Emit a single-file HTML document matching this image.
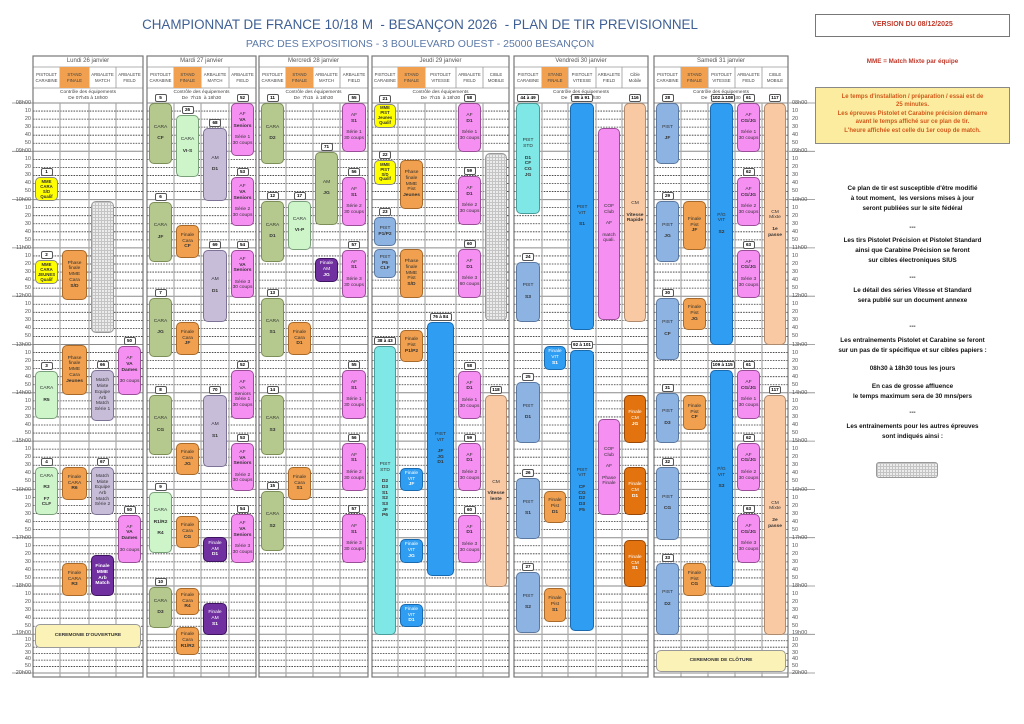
<!DOCTYPE html>
<html><head><meta charset="utf-8">
<style>
*{box-sizing:border-box;margin:0;padding:0}
body{width:1024px;height:724px;background:#fff;position:relative;overflow:hidden;font-family:"Liberation Sans",sans-serif;color:#222}
svg#g{position:absolute;left:0;top:0}
.a{position:absolute}
.e{position:absolute;border:1px solid #666;border-radius:5px;font-size:4.9px;text-align:center;display:flex;flex-direction:column;justify-content:center;align-items:center;line-height:1.17;color:#333}
.e i{position:absolute;top:-10px;left:50%;margin-left:-6px;min-width:12px;height:8px;border:1px solid #555;border-radius:2px;background:#fff;font-style:normal;font-size:4.6px;line-height:6px;padding:0 1px;color:#000;font-weight:bold;white-space:nowrap}
.e i.w{margin-left:-11px;min-width:22px}
.ol{background:#b5c98e;border-color:#7d8f58}
.lg{background:#cdf5c9;border-color:#7aa07a}
.or{background:#f0a04e;border-color:#a86a2a}
.dor{background:#e2730f;border-color:#9a4a08;color:#fff}
.lav{background:#c7bdd9;border-color:#7d7396}
.pk{background:#f68ff2;border-color:#9a4e98}
.pu{background:#7030a0;border-color:#3e1460;color:#fff}
.ye{background:#ffff00;border-color:#888}
.lb{background:#8db3e2;border-color:#5a78a0}
.cy{background:#7fe8e6;border-color:#4a9c9a}
.bl{background:#2f9df2;border-color:#1a6ab0}
.pe{background:#f9c9a4;border-color:#b08a6c}
.gr{background-color:#ececec;background-image:linear-gradient(#c4c4c4 1px,transparent 1px),linear-gradient(90deg,#c4c4c4 1px,transparent 1px);background-size:3px 3px;border-color:#999}
.dh{position:absolute;top:56px;height:11px;font-size:6px;text-align:center;line-height:11px;color:#555}
.sh{position:absolute;top:67px;height:21px;font-size:4.3px;text-align:center;display:flex;align-items:center;justify-content:center;line-height:1.3;color:#444}
.sh.f{background:#f0a04e}
.ct{position:absolute;top:88px;height:15px;font-size:4.8px;text-align:center;line-height:6px;padding-top:2px;color:#444}
.tl{position:absolute;width:31px;text-align:right;font-size:5.5px;line-height:8.05px;color:#555}
.tr{position:absolute;left:792px;width:25px;text-align:left;font-size:5.5px;line-height:8.05px;color:#555}
.rt{position:absolute;left:815px;width:195px;text-align:center;font-size:6.3px;font-weight:bold;line-height:12px;color:#111}
</style></head><body>
<svg id="g" width="1024" height="724"></svg>

<div class="a" style="left:60px;top:17px;width:720px;text-align:center;font-size:13.4px;color:#3e5f95">CHAMPIONNAT DE FRANCE 10/18 M &nbsp;- BESANÇON 2026 &nbsp;- PLAN DE TIR PREVISIONNEL</div>
<div class="a" style="left:60px;top:38px;width:720px;text-align:center;font-size:10.5px;color:#5b79a8">PARC DES EXPOSITIONS - 3 BOULEVARD OUEST - 25000 BESANÇON</div>

<div class="a" style="left:815px;top:14px;width:195px;height:23px;border:1.5px solid #777;text-align:center;font-size:7px;font-weight:bold;color:#c0392b;line-height:20px">VERSION DU 08/12/2025</div>
<div class="a" style="left:815px;top:58px;width:195px;text-align:center;font-size:6.3px;font-weight:bold;color:#c0392b">MME = Match Mixte par équipe</div>
<div class="a" style="left:815px;top:87px;width:195px;height:57px;border:1px solid #888;background:#fbeca0;text-align:center;font-size:6px;font-weight:bold;color:#d35a1a;line-height:8.4px;padding-top:5px">Le temps d'installation / préparation / essai est de<br>25 minutes.<br>Les épreuves Pistolet et Carabine précision démarre<br>avant le temps affiché sur ce plan de tir.<br>L'heure affichée est celle du 1er coup de match.</div>
<div class="rt" style="top:184px;line-height:10px">Ce plan de tir est susceptible d'être modifié<br>à tout moment,&nbsp; les versions mises à jour<br>seront publiées sur le site fédéral</div>
<div class="rt" style="top:222px">---</div>
<div class="rt" style="top:236px;line-height:10px">Les tirs Pistolet Précision et Pistolet Standard<br>ainsi que Carabine Précision se feront<br>sur cibles électroniques SIUS</div>
<div class="rt" style="top:272px">---</div>
<div class="rt" style="top:286px;line-height:10px">Le détail des séries Vitesse et Standard<br>sera publié sur un document annexe</div>
<div class="rt" style="top:321px">---</div>
<div class="rt" style="top:336px;line-height:10px">Les entraînements Pistolet et Carabine se feront<br>sur un pas de tir spécifique et sur cibles papiers :</div>
<div class="rt" style="top:363px">08h30 à 18h30 tous les jours</div>
<div class="rt" style="top:382px;line-height:10px">En cas de grosse affluence<br>le temps maximum sera de 30 mns/pers</div>
<div class="rt" style="top:407px">---</div>
<div class="rt" style="top:422px;line-height:10px">Les entraînements pour les autres épreuves<br>sont indiqués ainsi :</div>
<div class="e gr" style="left:876px;top:462px;width:62px;height:16px;border-radius:3px"></div>

<!-- day headers -->
<div class="dh" style="left:33px;width:110px">Lundi 26 janvier</div>
<div class="dh" style="left:147px;width:109px">Mardi 27 janvier</div>
<div class="dh" style="left:259px;width:109px">Mercredi 28 janvier</div>
<div class="dh" style="left:372px;width:137px">Jeudi 29 janvier</div>
<div class="dh" style="left:514px;width:134px">Vendredi 30 janvier</div>
<div class="dh" style="left:654px;width:134px">Samedi 31 janvier</div>

<div class="sh" style="left:33px;width:27px">PISTOLET<br>CARABINE</div><div class="sh f" style="left:60px;width:29px">STAND<br>FINALE</div><div class="sh" style="left:89px;width:27px">ARBALETE<br>MATCH</div><div class="sh" style="left:116px;width:27px">ARBALETE<br>FIELD</div>
<div class="sh" style="left:147px;width:27px">PISTOLET<br>CARABINE</div><div class="sh f" style="left:174px;width:27px">STAND<br>FINALE</div><div class="sh" style="left:201px;width:28px">ARBALETE<br>MATCH</div><div class="sh" style="left:229px;width:27px">ARBALETE<br>FIELD</div>
<div class="sh" style="left:259px;width:27px">PISTOLET<br>CARABINE</div><div class="sh f" style="left:286px;width:27px">STAND<br>FINALE</div><div class="sh" style="left:313px;width:27px">ARBALETE<br>MATCH</div><div class="sh" style="left:340px;width:28px">ARBALETE<br>FIELD</div>
<div class="sh" style="left:372px;width:26px">PISTOLET<br>CARABINE</div><div class="sh f" style="left:398px;width:27px">STAND<br>FINALE</div><div class="sh" style="left:425px;width:31px">PISTOLET<br>VITESSE</div><div class="sh" style="left:456px;width:27px">ARBALETE<br>FIELD</div><div class="sh" style="left:483px;width:26px">CIBLE<br>MOBILE</div>
<div class="sh" style="left:514px;width:28px">PISTOLET<br>CARABINE</div><div class="sh f" style="left:542px;width:26px">STAND<br>FINALE</div><div class="sh" style="left:568px;width:28px">PISTOLET<br>VITESSE</div><div class="sh" style="left:596px;width:26px">ARBALETE<br>FIELD</div><div class="sh" style="left:622px;width:26px">Cible<br>Mobile</div>
<div class="sh" style="left:654px;width:27px">PISTOLET<br>CARABINE</div><div class="sh f" style="left:681px;width:27px">STAND<br>FINALE</div><div class="sh" style="left:708px;width:27px">PISTOLET<br>VITESSE</div><div class="sh" style="left:735px;width:27px">ARBALETE<br>FIELD</div><div class="sh" style="left:762px;width:26px">CIBLE<br>MOBILE</div>

<div class="ct" style="left:33px;width:110px">Contrôle des équipements<br>De 07h45 à 18h00</div>
<div class="ct" style="left:147px;width:109px">Contrôle des équipements<br>De&nbsp; 7h15&nbsp; à 18h30</div>
<div class="ct" style="left:259px;width:109px">Contrôle des équipements<br>De&nbsp; 7h15&nbsp; à 18h30</div>
<div class="ct" style="left:372px;width:137px">Contrôle des équipements<br>De&nbsp; 7h15&nbsp; à 18h30</div>
<div class="ct" style="left:514px;width:134px">Contrôle des équipements<br>De&nbsp; 7h15&nbsp; à 18h30</div>
<div class="ct" style="left:654px;width:134px">Contrôle des équipements<br>De&nbsp; 7h15&nbsp; à 18h30</div>

<!-- time labels left -->
<div class="tl" style="left:0;top:99px">08h00<br>10<br>20<br>30<br>40<br>50</div>
<div class="tl" style="left:0;top:147px">09h00<br>10<br>20<br>30<br>40<br>50</div>
<div class="tl" style="left:0;top:196px">10h00<br>10<br>20<br>30<br>40<br>50</div>
<div class="tl" style="left:0;top:244px">11h00<br>10<br>20<br>30<br>40<br>50</div>
<div class="tl" style="left:0;top:292px">12h00<br>10<br>20<br>30<br>40<br>50</div>
<div class="tl" style="left:0;top:341px">13h00<br>10<br>20<br>30<br>40<br>50</div>
<div class="tl" style="left:0;top:389px">14h00<br>10<br>20<br>30<br>40<br>50</div>
<div class="tl" style="left:0;top:437px">15h00<br>10<br>20<br>30<br>40<br>50</div>
<div class="tl" style="left:0;top:486px">16h00<br>10<br>20<br>30<br>40<br>50</div>
<div class="tl" style="left:0;top:534px">17h00<br>10<br>20<br>30<br>40<br>50</div>
<div class="tl" style="left:0;top:582px">18h00<br>10<br>20<br>30<br>40<br>50</div>
<div class="tl" style="left:0;top:630px;line-height:6.5px">19h00<br>10<br>20<br>30<br>40<br>50</div>
<div class="tl" style="left:0;top:669px">20h00</div>
<!-- right -->
<div class="tr" style="top:99px">08h00<br>10<br>20<br>30<br>40<br>50</div>
<div class="tr" style="top:147px">09h00<br>10<br>20<br>30<br>40<br>50</div>
<div class="tr" style="top:196px">10h00<br>10<br>20<br>30<br>40<br>50</div>
<div class="tr" style="top:244px">11h00<br>10<br>20<br>30<br>40<br>50</div>
<div class="tr" style="top:292px">12h00<br>10<br>20<br>30<br>40<br>50</div>
<div class="tr" style="top:341px">13h00<br>10<br>20<br>30<br>40<br>50</div>
<div class="tr" style="top:389px">14h00<br>10<br>20<br>30<br>40<br>50</div>
<div class="tr" style="top:437px">15h00<br>10<br>20<br>30<br>40<br>50</div>
<div class="tr" style="top:486px">16h00<br>10<br>20<br>30<br>40<br>50</div>
<div class="tr" style="top:534px">17h00<br>10<br>20<br>30<br>40<br>50</div>
<div class="tr" style="top:582px">18h00<br>10<br>20<br>30<br>40<br>50</div>
<div class="tr" style="top:630px;line-height:6.5px">19h00<br>10<br>20<br>30<br>40<br>50</div>
<div class="tr" style="top:669px">20h00</div>

<!-- LUNDI -->
<div class="e ye" style="left:35px;top:177px;width:23px;height:24px;font-size:4.3px"><i>1</i><b>MME<br>CARA<br>S/D<br>Qualif</b></div>
<div class="e ye" style="left:35px;top:260px;width:23px;height:24px;font-size:4.3px"><i>2</i><b>MME<br>CARA<br>JEUNES<br>Qualif</b></div>
<div class="e or" style="left:62px;top:250px;width:25px;height:50px">Phase<br>finale<br>MME<br>Cara<br><b>S/D</b></div>
<div class="e gr" style="left:91px;top:201px;width:23px;height:132px"></div>
<div class="e or" style="left:62px;top:345px;width:25px;height:50px">Phase<br>finale<br>MME<br>Cara<br><b>Jeunes</b></div>
<div class="e lg" style="left:35px;top:371px;width:23px;height:48px"><i>3</i>CARA<br><br><b>R5</b></div>
<div class="e lav" style="left:91px;top:370px;width:23px;height:51px"><i>66</i>Match<br>Mixte<br>Equipe<br>Arb<br>Match<br>Série 1</div>
<div class="e pk" style="left:118px;top:346px;width:23px;height:49px"><i>50</i>AF<br><b>VA<br>Dames</b><br>30 coups</div>
<div class="e lg" style="left:35px;top:467px;width:23px;height:48px"><i>4</i>CARA<br><br><b>R3<br><br>F7<br>CLF</b></div>
<div class="e or" style="left:62px;top:467px;width:25px;height:33px">Finale<br>CARA<br><b>R6</b></div>
<div class="e lav" style="left:91px;top:467px;width:23px;height:48px"><i>67</i>Match<br>Mixte<br>Equipe<br>Arb<br>Match<br>Série 2</div>
<div class="e pk" style="left:118px;top:515px;width:23px;height:48px"><i>50</i>AF<br><b>VA<br>Dames</b><br>30 coups</div>
<div class="e or" style="left:62px;top:563px;width:25px;height:33px">Finale<br>CARA<br><b>R3</b></div>
<div class="e pu" style="left:91px;top:555px;width:23px;height:41px"><b>Finale<br>MME<br>Arb<br>Match</b></div>
<div class="e" style="left:35px;top:624px;width:106px;height:24px;background:#fbf2b8;border-color:#999"><b>CEREMONIE D'OUVERTURE</b></div>

<!-- MARDI -->
<div class="e ol" style="left:149px;top:103px;width:23px;height:61px"><i>5</i>CARA<br><br><b>CF</b></div>
<div class="e lg" style="left:176px;top:115px;width:23px;height:62px"><i>26</i>CARA<br><br><b>VI-S</b></div>
<div class="e lav" style="left:203px;top:128px;width:24px;height:73px"><i>68</i>AM<br><br><b>D1</b></div>
<div class="e pk" style="left:231px;top:103px;width:23px;height:53px"><i>52</i>AF<br><b>VA<br>Seniors</b><br>Série 1<br>30 coups</div>
<div class="e pk" style="left:231px;top:177px;width:23px;height:49px"><i>53</i>AF<br><b>VA<br>Seniors</b><br>Série 2<br>30 coups</div>
<div class="e ol" style="left:149px;top:202px;width:23px;height:60px"><i>6</i>CARA<br><br><b>JF</b></div>
<div class="e or" style="left:176px;top:225px;width:23px;height:33px">Finale<br>Cara<br><b>CF</b></div>
<div class="e lav" style="left:203px;top:250px;width:24px;height:72px"><i>69</i>AM<br><br><b>D1</b></div>
<div class="e pk" style="left:231px;top:250px;width:23px;height:48px"><i>54</i>AF<br><b>VA<br>Seniors</b><br>Série 3<br>30 coups</div>
<div class="e ol" style="left:149px;top:298px;width:23px;height:59px"><i>7</i>CARA<br><br><b>JG</b></div>
<div class="e or" style="left:176px;top:322px;width:23px;height:33px">Finale<br>Cara<br><b>JF</b></div>
<div class="e pk" style="left:231px;top:370px;width:23px;height:49px"><i>52</i>AF<br>VA<br>Seniors<br>Série 1<br>30 coups</div>
<div class="e ol" style="left:149px;top:395px;width:23px;height:60px"><i>8</i>CARA<br><br><b>CG</b></div>
<div class="e lav" style="left:203px;top:395px;width:24px;height:72px"><i>70</i>AM<br><br><b>S1</b></div>
<div class="e or" style="left:176px;top:443px;width:23px;height:32px">Finale<br>Cara<br><b>JG</b></div>
<div class="e pk" style="left:231px;top:443px;width:23px;height:48px"><i>53</i>AF<br><b>VA<br>Seniors</b><br>Série 2<br>30 coups</div>
<div class="e lg" style="left:149px;top:492px;width:23px;height:61px"><i>9</i>CARA<br><br><b>R1/R2<br><br>R4</b></div>
<div class="e or" style="left:176px;top:516px;width:23px;height:32px">Finale<br>Cara<br><b>CG</b></div>
<div class="e pu" style="left:203px;top:537px;width:24px;height:25px">Finale<br>AM<br><b>D1</b></div>
<div class="e pk" style="left:231px;top:514px;width:23px;height:49px"><i>54</i>AF<br><b>VA<br>Seniors</b><br>Série 3<br>30 coups</div>
<div class="e ol" style="left:149px;top:587px;width:23px;height:41px"><i>10</i>CARA<br><br><b>D3</b></div>
<div class="e or" style="left:176px;top:588px;width:23px;height:27px">Finale<br>Cara<br><b>R4</b></div>
<div class="e pu" style="left:203px;top:603px;width:24px;height:32px">Finale<br>AM<br><b>S1</b></div>
<div class="e or" style="left:176px;top:627px;width:23px;height:28px">Finale<br>Cara<br><b>R1/R2</b></div>

<!-- MERCREDI -->
<div class="e ol" style="left:261px;top:103px;width:23px;height:61px"><i>11</i>CARA<br><br><b>D2</b></div>
<div class="e pk" style="left:342px;top:103px;width:24px;height:49px"><i>55</i>AF<br><b>S1</b><br>Série 1<br>30 coups</div>
<div class="e ol" style="left:315px;top:152px;width:23px;height:73px"><i>71</i>AM<br><br><b>JG</b></div>
<div class="e pk" style="left:342px;top:177px;width:24px;height:49px"><i>56</i>AF<br><b>S1</b><br>Série 2<br>30 coups</div>
<div class="e ol" style="left:261px;top:201px;width:23px;height:61px"><i>12</i>CARA<br><br><b>D1</b></div>
<div class="e lg" style="left:288px;top:201px;width:23px;height:49px"><i>17</i>CARA<br><br><b>VI-P</b></div>
<div class="e pk" style="left:342px;top:250px;width:24px;height:48px"><i>57</i>AF<br><b>S1</b><br>Série 3<br>30 coups</div>
<div class="e pu" style="left:315px;top:258px;width:23px;height:24px">Finale<br>AM<br><b>JG</b></div>
<div class="e ol" style="left:261px;top:298px;width:23px;height:59px"><i>13</i>CARA<br><br><b>S1</b></div>
<div class="e or" style="left:288px;top:322px;width:23px;height:33px">Finale<br>Cara<br><b>D1</b></div>
<div class="e pk" style="left:342px;top:370px;width:24px;height:49px"><i>55</i>AF<br><b>S1</b><br>Série 1<br>30 coups</div>
<div class="e ol" style="left:261px;top:395px;width:23px;height:60px"><i>14</i>CARA<br><br><b>S3</b></div>
<div class="e pk" style="left:342px;top:443px;width:24px;height:48px"><i>56</i>AF<br><b>S1</b><br>Série 2<br>30 coups</div>
<div class="e or" style="left:288px;top:467px;width:23px;height:33px">Finale<br>Cara<br><b>S1</b></div>
<div class="e ol" style="left:261px;top:491px;width:23px;height:60px"><i>15</i>CARA<br><br><b>S2</b></div>
<div class="e pk" style="left:342px;top:514px;width:24px;height:49px"><i>57</i>AF<br><b>S1</b><br>Série 3<br>30 coups</div>

<!-- JEUDI -->
<div class="e ye" style="left:374px;top:104px;width:22px;height:24px;font-size:4.2px"><i>21</i><b>MME<br>PIST<br>Jeunes<br>Qualif</b></div>
<div class="e pk" style="left:458px;top:103px;width:23px;height:49px"><i>58</i>AF<br><b>D1</b><br>Série 1<br>30 coups</div>
<div class="e ye" style="left:374px;top:160px;width:22px;height:25px;font-size:4.2px"><i>22</i><b>MME<br>PIST<br>S/D<br>Qualif</b></div>
<div class="e or" style="left:400px;top:160px;width:23px;height:49px">Phase<br>finale<br>MME<br>Pist<br><b>Jeunes</b></div>
<div class="e gr" style="left:485px;top:153px;width:22px;height:168px"></div>
<div class="e pk" style="left:458px;top:176px;width:23px;height:49px"><i>59</i>AF<br><b>D1</b><br>Série 2<br>30 coups</div>
<div class="e lb" style="left:374px;top:217px;width:22px;height:29px"><i>23</i>PIST<br><b>P1/P2</b></div>
<div class="e lb" style="left:374px;top:249px;width:22px;height:29px">PIST<br><b>P5<br>CLF</b></div>
<div class="e or" style="left:400px;top:249px;width:23px;height:49px">Phase<br>finale<br>MME<br>Pist<br><b>S/D</b></div>
<div class="e pk" style="left:458px;top:249px;width:23px;height:49px"><i>60</i>AF<br><b>D1</b><br>Série 3<br>60 coups</div>
<div class="e bl" style="left:427px;top:322px;width:27px;height:254px"><i class="w">76 à 84</i>PIST<br>VIT<br><br><b>JF<br>JG<br>D1</b></div>
<div class="e or" style="left:400px;top:330px;width:23px;height:32px">Finale<br>Pist<br><b>P1/P2</b></div>
<div class="e cy" style="left:374px;top:346px;width:22px;height:289px"><i class="w">38 à 43</i>PIST<br>STD<br><br><b>D2<br>D3<br>S1<br>S2<br>S3<br>JF<br>P6</b></div>
<div class="e pk" style="left:458px;top:371px;width:23px;height:48px"><i>58</i>AF<br><b>D1</b><br>Série 1<br>30 coups</div>
<div class="e pe" style="left:485px;top:395px;width:22px;height:192px"><i>118</i>CM<br><br><b>Vitesse<br>lente</b></div>
<div class="e pk" style="left:458px;top:443px;width:23px;height:48px"><i>59</i>AF<br><b>D1</b><br>Série 2<br>30 coups</div>
<div class="e bl" style="left:400px;top:468px;width:23px;height:23px;color:#fff">Finale<br>VIT<br><b>JF</b></div>
<div class="e pk" style="left:458px;top:515px;width:23px;height:48px"><i>60</i>AF<br><b>D1</b><br>Série 3<br>30 coups</div>
<div class="e bl" style="left:400px;top:539px;width:23px;height:24px;color:#fff">Finale<br>VIT<br><b>JG</b></div>
<div class="e bl" style="left:400px;top:604px;width:23px;height:23px;color:#fff">Finale<br>VIT<br><b>D1</b></div>

<!-- VENDREDI -->
<div class="e cy" style="left:516px;top:103px;width:24px;height:111px"><i class="w">44 à 49</i>PIST<br>STD<br><br><b>D1<br>CF<br>CG<br>JG</b></div>
<div class="e bl" style="left:570px;top:103px;width:24px;height:227px"><i class="w">85 à 91</i>PIST<br>VIT<br><br><b>S1</b></div>
<div class="e pk" style="left:598px;top:128px;width:22px;height:192px">COF Club<br><br>AF<br><br>match<br>quali.</div>
<div class="e pe" style="left:624px;top:103px;width:22px;height:219px"><i>116</i>CM<br><br><b>Vitesse<br>Rapide</b></div>
<div class="e lb" style="left:516px;top:262px;width:24px;height:60px"><i>24</i>PIST<br><br><b>S3</b></div>
<div class="e bl" style="left:544px;top:346px;width:22px;height:24px;color:#fff">Finale<br>VIT<br><b>S1</b></div>
<div class="e bl" style="left:570px;top:350px;width:24px;height:281px"><i class="w">92 à 101</i>PIST<br>VIT<br><br><b>CF<br>CG<br>D2<br>D3<br>F5</b></div>
<div class="e lb" style="left:516px;top:382px;width:24px;height:61px"><i>25</i>PIST<br><br><b>D1</b></div>
<div class="e dor" style="left:624px;top:395px;width:22px;height:48px">Finale<br>CM<br><b>JG</b></div>
<div class="e pk" style="left:598px;top:419px;width:22px;height:96px">COF Club<br><br>AF<br><br>Phase<br>Finale</div>
<div class="e dor" style="left:624px;top:467px;width:22px;height:48px">Finale<br>CM<br><b>D1</b></div>
<div class="e lb" style="left:516px;top:478px;width:24px;height:61px"><i>26</i>PIST<br><br><b>S1</b></div>
<div class="e or" style="left:544px;top:491px;width:22px;height:32px">Finale<br>Pist<br><b>D1</b></div>
<div class="e dor" style="left:624px;top:540px;width:22px;height:47px">Finale<br>CM<br><b>S1</b></div>
<div class="e lb" style="left:516px;top:572px;width:24px;height:61px"><i>27</i>PIST<br><br><b>S2</b></div>
<div class="e or" style="left:544px;top:588px;width:22px;height:34px">Finale<br>Pist<br><b>S1</b></div>

<!-- SAMEDI -->
<div class="e lb" style="left:656px;top:103px;width:23px;height:61px"><i>28</i>PIST<br><br><b>JF</b></div>
<div class="e bl" style="left:710px;top:103px;width:23px;height:242px"><i class="w">102 à 108</i>P/G<br>VIT<br><br><b>S2</b></div>
<div class="e pk" style="left:737px;top:103px;width:23px;height:49px"><i>61</i>AF<br><b>CG/JG</b><br>Série 1<br>30 coups</div>
<div class="e pe" style="left:764px;top:103px;width:22px;height:242px"><i>117</i>CM<br>Mixte<br><br><b>1e passe</b></div>
<div class="e pk" style="left:737px;top:177px;width:23px;height:49px"><i>62</i>AF<br><b>CG/JG</b><br>Série 2<br>30 coups</div>
<div class="e lb" style="left:656px;top:201px;width:23px;height:61px"><i>29</i>PIST<br><br><b>JG</b></div>
<div class="e or" style="left:683px;top:201px;width:23px;height:49px">Finale<br>Pist<br><b>JF</b></div>
<div class="e pk" style="left:737px;top:250px;width:23px;height:48px"><i>63</i>AF<br><b>CG/JG</b><br>Série 3<br>30 coups</div>
<div class="e lb" style="left:656px;top:298px;width:23px;height:62px"><i>30</i>PIST<br><br><b>CF</b></div>
<div class="e or" style="left:683px;top:298px;width:23px;height:32px">Finale<br>Pist<br><b>JG</b></div>
<div class="e bl" style="left:710px;top:370px;width:23px;height:217px"><i class="w">109 à 115</i>P/G<br>VIT<br><br><b>S3</b></div>
<div class="e pk" style="left:737px;top:370px;width:23px;height:49px"><i>61</i>AF<br><b>CG/JG</b><br>Série 1<br>30 coups</div>
<div class="e pe" style="left:764px;top:395px;width:22px;height:240px"><i>117</i>CM<br>Mixte<br><br><b>2e passe</b></div>
<div class="e lb" style="left:656px;top:393px;width:23px;height:50px"><i>31</i>PIST<br><br><b>D3</b></div>
<div class="e or" style="left:683px;top:395px;width:23px;height:35px">Finale<br>Pist<br><b>CF</b></div>
<div class="e pk" style="left:737px;top:443px;width:23px;height:48px"><i>62</i>AF<br><b>CG/JG</b><br>Série 2<br>30 coups</div>
<div class="e lb" style="left:656px;top:467px;width:23px;height:73px"><i>32</i>PIST<br><br><b>CG</b></div>
<div class="e pk" style="left:737px;top:514px;width:23px;height:49px"><i>63</i>AF<br><b>CG/JG</b><br>Série 3<br>30 coups</div>
<div class="e or" style="left:683px;top:563px;width:23px;height:33px">Finale<br>Pist<br><b>CG</b></div>
<div class="e lb" style="left:656px;top:563px;width:23px;height:72px"><i>33</i>PIST<br><br><b>D2</b></div>
<div class="e" style="left:656px;top:650px;width:130px;height:22px;background:#fbf2b8;border-color:#999"><b>CEREMONIE DE CLÔTURE</b></div>

<script>
(function(){
var s=document.getElementById('g'),o='';
function L(x1,y1,x2,y2,c,w,d){o+='<line x1="'+x1+'" y1="'+y1+'" x2="'+x2+'" y2="'+y2+'" stroke="'+c+'" stroke-width="'+(w||1)+'"'+(d?' stroke-dasharray="'+d+'"':'')+'/>';}
var days=[[33,[60,89,116],143],[147,[174,201,229],256],[259,[286,313,340],368],[372,[398,425,456,483],509],[514,[542,568,596,622],648],[654,[681,708,735,762],788]];
var ys=[];for(var h=0;h<12;h++){var y0=103+h*48.3,st=(h==11)?6.45:8.05;ys.push([y0,1]);for(var m=1;m<6;m++)ys.push([y0+m*st,0]);}
ys.push([673,1]);
days.forEach(function(d){
 var x0=d[0],x1=d[2];
 ys.forEach(function(p){if(p[1])L(x0,p[0],x1,p[0],'#8a8a8a',1);else L(x0,p[0],x1,p[0],'#333',0.8,'1.6,1.1');});
 d[1].forEach(function(x){L(x,67,x,88,'#999',0.8);L(x,103,x,677,'#aaa',1.2);});
 L(x0,67,x1,67,'#999',0.8);L(x0,88,x1,88,'#999',0.8);
 o+='<rect x="'+x0+'" y="56" width="'+(x1-x0)+'" height="621" fill="none" stroke="#777" stroke-width="1.2"/>';
});
for(var i=0;i<ys.length;i++){if(ys[i][1]){L(12,ys[i][0],33,ys[i][0],'#888',0.8);L(789,ys[i][0],815,ys[i][0],'#888',0.8);}}
s.innerHTML=o;
})();
</script>
</body></html>
